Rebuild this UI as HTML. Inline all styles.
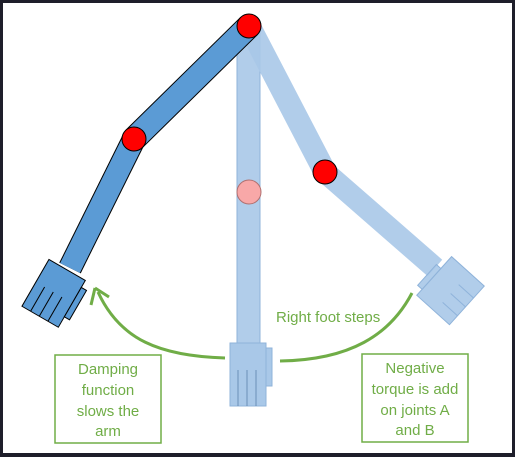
<!DOCTYPE html>
<html><head><meta charset="utf-8"><style>
body{margin:0;background:#1e1e2a}
svg{display:block}
text{font-family:"Liberation Sans",sans-serif;fill:#70ad47;font-size:15px}
</style></head><body>
<svg width="515" height="457" viewBox="0 0 515 457">
<rect x="3" y="3" width="509" height="450" fill="#fff"/>
<g fill="#a9c8e8" stroke="#8fb3da" stroke-width="1">
<rect x="237" y="28" width="23" height="318" fill-opacity="0.9"/>
<circle cx="249" cy="192" r="12" fill="#f8a8a8" stroke="#b07070"/>
<g>
<rect x="230" y="343" width="36" height="63"/>
<rect x="266" y="348" width="6" height="38"/>
<line x1="238" y1="370" x2="238" y2="406" stroke="#6a8fb8"/>
<line x1="247" y1="370" x2="247" y2="406" stroke="#6a8fb8"/>
<line x1="256" y1="370" x2="256" y2="406" stroke="#6a8fb8"/>
</g>
</g>
<g fill="#a9c8e8" stroke="#8fb3da" fill-opacity="0.9">
<line x1="249" y1="26" x2="325" y2="172" stroke="#a9c8e8" stroke-width="23" stroke-opacity="0.9"/>
<line x1="325" y1="172" x2="435" y2="268" stroke="#a9c8e8" stroke-width="22" stroke-opacity="0.9"/>
<g transform="translate(452,292) rotate(-48)">
<rect x="-26" y="-24" width="52" height="44"/>
<rect x="-18" y="-30" width="28" height="6"/>
<line x1="-14" y1="0" x2="-14" y2="20" stroke="#8fb3da"/>
<line x1="-2" y1="0" x2="-2" y2="20" stroke="#8fb3da"/>
<line x1="10" y1="0" x2="10" y2="20" stroke="#8fb3da"/>
</g>
<circle cx="325" cy="172" r="12" fill="#ff0000" stroke="#000" fill-opacity="1"/>
</g>
<g>
<line x1="249" y1="26" x2="134" y2="139" stroke="#000" stroke-width="25"/>
<line x1="249" y1="26" x2="134" y2="139" stroke="#5b9bd5" stroke-width="23"/>
<line x1="134" y1="139" x2="70" y2="268" stroke="#000" stroke-width="24"/>
<line x1="134" y1="139" x2="70" y2="268" stroke="#5b9bd5" stroke-width="22"/>
<g transform="translate(55,293) rotate(30)" fill="#5b9bd5" stroke="#000">
<rect x="-22" y="-26" width="42" height="54"/>
<rect x="20" y="-18" width="6" height="34"/>
<line x1="-12" y1="0" x2="-12" y2="28"/>
<line x1="-2" y1="0" x2="-2" y2="28"/>
<line x1="8" y1="0" x2="8" y2="28"/>
</g>
<circle cx="134" cy="139" r="12" fill="#ff0000" stroke="#000"/>
</g>
<circle cx="249" cy="26" r="12" fill="#ff0000" stroke="#000"/>
<path d="M225,358 C160,356 120,340 98,292" fill="none" stroke="#70ad47" stroke-width="3"/>
<path d="M95,288 L91,305 M95,288 L109,297" fill="none" stroke="#70ad47" stroke-width="3"/>
<path d="M280,361 C350,360 390,335 412,293" fill="none" stroke="#70ad47" stroke-width="3"/>
<text x="276" y="322">Right foot steps</text>
<g>
<rect x="55" y="355" width="106" height="88" fill="#fff" stroke="#70ad47" stroke-width="1.5"/>
<text x="108" y="374" text-anchor="middle">Damping</text>
<text x="108" y="395" text-anchor="middle">function</text>
<text x="108" y="416" text-anchor="middle">slows the</text>
<text x="108" y="436" text-anchor="middle">arm</text>
</g>
<g>
<rect x="362" y="354" width="106" height="88" fill="#fff" stroke="#70ad47" stroke-width="1.5"/>
<text x="415" y="373" text-anchor="middle">Negative</text>
<text x="415" y="394" text-anchor="middle">torque is add</text>
<text x="415" y="415" text-anchor="middle">on joints A</text>
<text x="415" y="435" text-anchor="middle">and B</text>
</g>
</svg>
</body></html>
